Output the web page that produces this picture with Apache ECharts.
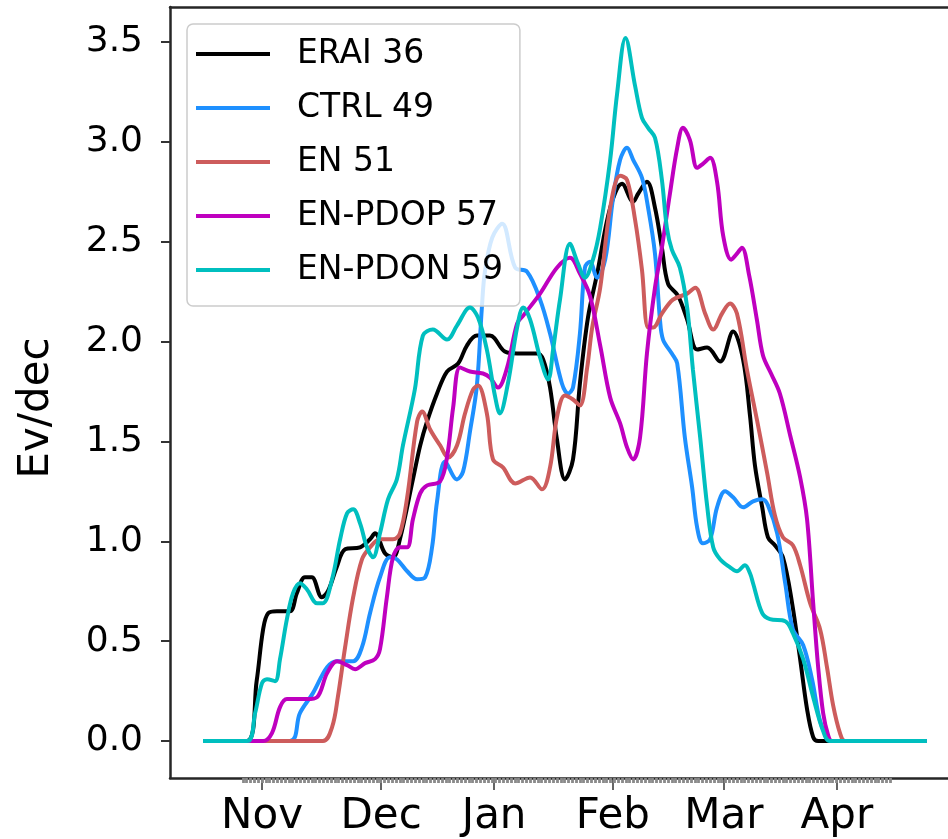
<!DOCTYPE html>
<html><head><meta charset="utf-8">
<script src="https://cdn.jsdelivr.net/npm/echarts@6/dist/echarts.min.js"></script>
<style>html,body{margin:0;padding:0;background:#fff}#c{width:948px;height:839px}</style>
</head><body><div id="c"></div>
<script>
// x unit: days after the "Nov" tick
const months = ['Nov','Dec','Jan','Feb','Mar','Apr'];
const monthPos = [0, 31.1, 60.6, 91.6, 120.6, 150.1];
const yTicks = [0, 0.5, 1, 1.5, 2, 2.5, 3, 3.5];
const names = ['ERAI 36','CTRL 49','EN 51','EN-PDOP 57','EN-PDON 59'];
const colors = ['#000000','#1E90FF','#CD5C5C','#BF00BF','#00BFBF'];

const eraiDays = [-15.4,-4.0,-1.4,0.3,1.6,3.9,7.3,9.1,11.2,13.0,15.6,17.2,19.5,21.7,25.6,28.2,29.5,32.1,34.2,36.0,39.4,41.3,43.1,45.7,48.3,51.2,53.5,56.1,59.5,63.4,66.6,71.8,73.4,75.2,77.0,79.1,81.2,83.0,85.1,87.5,90.9,94.0,96.9,98.2,100.5,102.6,104.4,106.0,108.6,111.0,113.6,116.2,119.6,123.0,125.6,127.4,128.7,130.6,132.1,133.9,136.0,138.4,140.5,142.3,143.9,145.2,173.6];
const eraiVals = [0,0,0.30,0.56,0.64,0.65,0.65,0.74,0.82,0.82,0.72,0.75,0.87,0.96,0.97,1.01,1.04,0.94,0.92,1.01,1.31,1.48,1.60,1.74,1.85,1.89,1.98,2.03,2.03,1.95,1.94,1.94,1.91,1.77,1.51,1.31,1.41,1.79,2.12,2.34,2.67,2.79,2.70,2.74,2.80,2.67,2.47,2.29,2.23,2.11,1.96,1.97,1.90,2.05,1.91,1.63,1.38,1.17,1.02,0.98,0.92,0.69,0.41,0.16,0.02,0,0];

const ctrlDays = [-15.4,7.3,9.9,13.3,17.0,19.6,23.8,26.1,28.2,30.8,33.4,35.2,37.9,40.5,42.6,44.4,45.7,47.8,50.9,52.5,54.3,56.1,57.4,58.2,60.1,62.7,66.1,69.2,72.6,75.2,78.3,79.9,81.2,83.0,84.3,85.6,87.5,89.6,91.6,93.5,95.3,96.9,99.2,100.8,102.6,103.9,104.7,107.0,108.4,110.4,112.3,113.6,115.1,117.0,118.8,120.9,123.0,125.6,128.2,130.6,132.1,134.5,136.6,138.6,141.3,143.6,145.7,147.8,148.8,173.6];
const ctrlVals = [0,0,0.14,0.24,0.37,0.40,0.40,0.47,0.64,0.82,0.92,0.91,0.85,0.81,0.82,0.97,1.20,1.40,1.31,1.35,1.55,1.78,2.17,2.35,2.52,2.59,2.37,2.35,2.21,2.04,1.79,1.74,1.77,2.04,2.37,2.40,2.32,2.41,2.71,2.91,2.97,2.91,2.82,2.67,2.44,2.11,2.01,1.94,1.89,1.52,1.27,1.07,0.99,1.01,1.17,1.25,1.22,1.17,1.20,1.21,1.18,1.04,0.79,0.56,0.48,0.31,0.10,0.01,0,0];

const enDays = [-15.4,15.9,18.3,19.8,21.7,23.8,26.1,28.2,30.8,34.2,36.0,37.9,40.5,41.8,43.9,46.5,48.6,50.9,53.0,55.1,56.4,58.7,60.3,62.9,66.1,70.0,73.1,75.2,77.0,79.1,81.2,83.0,84.9,86.2,88.3,90.9,93.5,95.3,97.4,99.2,100.8,102.1,104.4,107.3,111.0,113.1,115.7,117.8,120.1,122.2,124.0,126.6,129.2,131.9,133.9,136.0,138.6,140.5,143.1,145.7,147.5,149.1,150.9,152.2,173.6];
const enVals = [0,0,0.07,0.22,0.47,0.72,0.91,0.97,1.01,1.01,1.04,1.22,1.60,1.65,1.56,1.48,1.42,1.48,1.64,1.76,1.78,1.64,1.41,1.37,1.29,1.32,1.26,1.37,1.62,1.73,1.71,1.68,1.87,2.07,2.27,2.67,2.83,2.81,2.61,2.36,2.07,2.07,2.14,2.21,2.24,2.27,2.14,2.06,2.14,2.19,2.14,1.86,1.61,1.34,1.13,1.02,0.98,0.88,0.69,0.56,0.37,0.18,0.04,0,0];

const pdopDays = [-15.4,0.3,2.6,4.7,6.5,11.7,14.4,17.0,19.6,22.2,24.3,26.9,29.5,30.8,32.6,34.2,36.0,37.9,39.4,41.3,43.1,46.5,48.3,49.9,51.7,54.3,57.7,59.5,61.6,64.0,66.6,68.2,72.6,77.0,80.4,83.0,85.6,88.3,90.9,93.5,95.3,96.9,98.7,100.5,102.6,104.4,106.5,108.4,109.9,111.7,113.6,115.1,117.0,118.8,120.4,122.5,124.0,125.3,127.2,129.2,130.8,132.9,135.2,137.9,140.5,142.3,143.9,145.2,146.5,147.8,148.8,173.6];
const pdopVals = [0,0,0.04,0.17,0.21,0.21,0.22,0.34,0.40,0.38,0.36,0.39,0.41,0.46,0.72,0.92,0.97,0.97,1.11,1.24,1.28,1.30,1.42,1.67,1.87,1.85,1.84,1.82,1.77,1.87,2.09,2.13,2.24,2.37,2.42,2.34,2.23,1.98,1.72,1.59,1.47,1.41,1.52,1.94,2.27,2.47,2.74,2.97,3.07,3.01,2.87,2.89,2.92,2.80,2.53,2.41,2.44,2.47,2.33,2.11,1.93,1.84,1.74,1.53,1.32,1.11,0.69,0.37,0.14,0.03,0,0];

const pdonDays = [-15.4,-3.9,-1.8,0,1.3,3.4,4.7,6.5,8.1,9.9,11.7,14.4,15.9,18.3,20.4,22.2,23.8,25.6,27.4,29.0,30.8,32.9,35.2,36.8,39.9,42.0,44.6,48.3,50.9,54.3,56.4,58.7,60.8,62.1,64.2,66.6,68.2,70.0,72.6,74.7,76.0,77.8,80.4,82.5,84.3,86.4,88.3,90.9,92.7,94.9,97.4,99.2,100.8,102.6,104.4,105.7,107.0,109.1,111.0,112.5,114.4,116.2,117.8,119.6,122.2,124.0,126.1,127.4,128.2,130.6,132.6,136.6,138.6,141.3,143.9,146.5,148.3,173.6];
const pdonVals = [0,0,0.14,0.29,0.31,0.30,0.41,0.61,0.74,0.79,0.76,0.69,0.69,0.81,1.01,1.14,1.16,1.09,0.97,0.92,1.04,1.21,1.31,1.48,1.76,2.03,2.06,2.01,2.08,2.17,2.12,1.96,1.73,1.64,1.79,2.07,2.17,2.11,1.92,1.81,1.96,2.21,2.49,2.39,2.32,2.41,2.57,2.91,3.24,3.52,3.28,3.12,3.07,3.02,2.81,2.57,2.46,2.37,2.17,1.86,1.52,1.18,0.97,0.91,0.87,0.85,0.88,0.84,0.79,0.64,0.61,0.60,0.54,0.41,0.22,0.05,0,0];

const allDays = [eraiDays, ctrlDays, enDays, pdopDays, pdonDays];
const allVals = [eraiVals, ctrlVals, enVals, pdopVals, pdonVals];

const minorTicks = [];
for (let d = -5; d <= 164; d++) minorTicks.push(d);

const FONT = 'DejaVu Sans';
const zip = (a, b) => a.slice(0, Math.min(a.length, b.length)).map((x, i) => [x, b[i]]);

const chart = echarts.init(document.getElementById('c'), null, {renderer: 'canvas'});
chart.setOption({
  animation: false,
  backgroundColor: '#ffffff',
  grid: {left: 170, top: 7, right: 0, bottom: 61, containLabel: false},
  legend: {
    orient: 'vertical', left: 187, top: 24,
    icon: 'rect', itemWidth: 74, itemHeight: 4, itemGap: 16,
    padding: [11, 17, 17, 9],
    backgroundColor: 'rgba(255,255,255,0.8)',
    borderColor: '#cccccc', borderWidth: 1.5, borderRadius: 6,
    textStyle: {fontFamily: FONT, fontSize: 33, color: '#000', lineHeight: 38, padding: [0, 0, 0, 22]},
    data: names
  },
  xAxis: [
    {
      type: 'value', min: -24.02, max: 179.1, position: 'bottom',
      axisLine: {show: true, onZero: false, lineStyle: {color: '#262626', width: 2.5}},
      axisTick: {show: true, customValues: monthPos, length: 12, lineStyle: {color: '#333', width: 1.5}},
      axisLabel: {customValues: monthPos, margin: 18, fontFamily: FONT, fontSize: 42, color: '#000',
        formatter: v => { const i = monthPos.indexOf(v); return i >= 0 ? months[i] : ''; }},
      splitLine: {show: false}
    },
    {
      type: 'value', min: -24.02, max: 179.1, position: 'bottom', offset: 0,
      axisLine: {show: false, onZero: false},
      axisTick: {show: true, customValues: minorTicks, length: 5, lineStyle: {color: '#8a8a8a', width: 2.8}},
      axisLabel: {show: false},
      splitLine: {show: false}
    },
    {
      type: 'value', min: -24.02, max: 179.1, position: 'top',
      axisLine: {show: true, onZero: false, lineStyle: {color: '#262626', width: 2.5}},
      axisTick: {show: false}, axisLabel: {show: false}, splitLine: {show: false}
    }
  ],
  yAxis: {
    type: 'value', min: -0.185, max: 3.675,
    name: 'Ev/dec', nameLocation: 'middle', nameGap: 112,
    nameTextStyle: {fontFamily: FONT, fontSize: 42, color: '#000', padding: [0, 31, 0, 0]},
    axisLine: {show: true, onZero: false, lineStyle: {color: '#262626', width: 2.5}},
    axisTick: {show: true, customValues: yTicks, length: 9, lineStyle: {color: '#333', width: 2}},
    axisLabel: {customValues: yTicks, margin: 27, fontFamily: FONT, fontSize: 36, color: '#000',
      formatter: v => v.toFixed(1)},
    splitLine: {show: false}
  },
  series: names.map((n, i) => ({
    name: n, type: 'line', xAxisIndex: 0,
    data: zip(allDays[i], allVals[i]),
    showSymbol: false, smooth: 0.35,
    lineStyle: {color: colors[i], width: 4},
    itemStyle: {color: colors[i]},
    z: 2 + i
  }))
});
</script>
</body></html>
